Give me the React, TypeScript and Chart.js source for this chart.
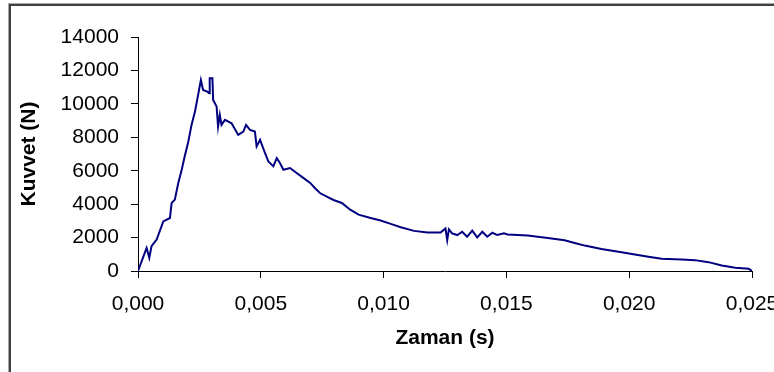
import React, { useEffect, useRef } from "react";
import { Chart, registerables } from "chart.js";

Chart.register(...registerables);

// Time (s)
const timeS: number[] = [
  0, 0.00015, 0.00035, 0.00046, 0.00055, 0.00076, 0.00103, 0.0013, 0.00137, 0.0015,
  0.00164, 0.00178, 0.0019, 0.00205, 0.00218, 0.00232, 0.00246, 0.00256, 0.00265, 0.00282,
  0.0029, 0.00292, 0.00303, 0.00306, 0.0032, 0.00326, 0.00333, 0.0034, 0.00354, 0.00381,
  0.00408, 0.00429, 0.0044, 0.00456, 0.00476, 0.00483, 0.00497, 0.00517, 0.00531, 0.00551,
  0.00565, 0.00578, 0.00592, 0.00619, 0.00646, 0.00673, 0.00701, 0.00721, 0.00742, 0.00796,
  0.0083, 0.00864, 0.00898, 0.00947, 0.00988, 0.01029, 0.0107, 0.01124, 0.01179, 0.01232,
  0.01252, 0.01259, 0.01266, 0.01279, 0.013, 0.0132, 0.0134, 0.01361, 0.01381, 0.01402,
  0.01422, 0.01443, 0.01463, 0.0149, 0.01505, 0.01587, 0.01669, 0.01737, 0.01778, 0.01819,
  0.01887, 0.01969, 0.02023, 0.02078, 0.02132, 0.02214, 0.02268, 0.02323, 0.02377, 0.02432,
  0.02487, 0.025,
];

// Force (N)
const forceN: number[] = [
  0, 590, 1380, 790, 1480, 1880, 2970, 3170, 4070, 4270,
  5260, 6060, 6850, 7750, 8740, 9540, 10630, 11430, 10830, 10730,
  10630, 11530, 11530, 10230, 9840, 8640, 9340, 8740, 9040, 8840,
  8140, 8340, 8740, 8440, 8340, 7450, 7850, 7060, 6550, 6260,
  6750, 6460, 6060, 6160, 5860, 5570, 5270, 4950, 4650, 4250,
  4070, 3670, 3370, 3170, 3020, 2820, 2620, 2400, 2300, 2300,
  2550, 1850, 2490, 2250, 2150, 2350, 2050, 2410, 2010, 2350,
  2050, 2290, 2150, 2250, 2180, 2120, 1980, 1840, 1680, 1520,
  1320, 1120, 990, 850, 730, 690, 650, 530, 330, 190,
  130, 0,
];

const xTitle = "Zaman (s)";
const yTitle = "Kuvvet (N)";
const xMin = 0;
const xMax = 0.025;
const xStep = 0.005;
const yMin = 0;
const yMax = 14000;
const yStep = 2000;

const FONT = "'Liberation Sans', Arial, sans-serif";

const borderPlugin = {
  id: "outerBorder",
  beforeDraw(chart: any) {
    const ctx = chart.ctx;
    ctx.save();
    ctx.fillStyle = "#a8a8a8";
    ctx.fillRect(8, 3, chart.width, 1);
    ctx.fillRect(8, 3, 1, chart.height);
    ctx.fillStyle = "#404040";
    ctx.fillRect(9, 4, chart.width, 2);
    ctx.fillRect(9, 4, 2, chart.height);
    ctx.restore();
  },
};

export default function App() {
  const ref = useRef<HTMLCanvasElement | null>(null);

  useEffect(() => {
    if (!ref.current) return;
    const data = timeS.map((t, i) => ({ x: t, y: forceN[i] }));
    const chart = new Chart(ref.current, {
      type: "line",
      data: {
        datasets: [
          {
            data,
            borderColor: "#000080",
            borderWidth: 2,
            pointRadius: 0,
            tension: 0,
            fill: false,
          },
        ],
      },
      options: {
        animation: false,
        responsive: false,
        maintainAspectRatio: false,
        events: [],
        layout: { padding: { left: 8, top: 37, right: 78, bottom: 0 } },
        plugins: { legend: { display: false }, tooltip: { enabled: false }, title: { display: false } },
        scales: {
          x: {
            type: "linear",
            min: xMin,
            max: xMax,
            afterFit: (s: any) => {
              s.height = 101;
            },
            ticks: {
              stepSize: xStep,
              maxRotation: 0,
              autoSkip: false,
              padding: 14,
              color: "#000",
              font: { family: FONT, size: 21 },
              callback: (v: any) => Number(v).toFixed(3).replace(".", ","),
            },
            grid: { drawOnChartArea: false, drawTicks: true, tickLength: 7, color: "#000" },
            border: { display: true, color: "#000", width: 1 },
            title: {
              display: true,
              text: xTitle,
              color: "#000",
              font: { family: FONT, size: 21, weight: "bold" },
              padding: { top: 0, bottom: 21 },
            },
          },
          y: {
            type: "linear",
            min: yMin,
            max: yMax,
            afterFit: (s: any) => {
              s.width = 130;
            },
            ticks: {
              stepSize: yStep,
              padding: 12,
              color: "#000",
              font: { family: FONT, size: 21 },
              callback: (v: any) => String(v),
            },
            grid: { drawOnChartArea: false, drawTicks: true, tickLength: 7, color: "#000" },
            border: { display: true, color: "#000", width: 1 },
            title: {
              display: true,
              text: yTitle,
              color: "#000",
              font: { family: FONT, size: 21, weight: "bold" },
              padding: { top: 9, bottom: 0 },
            },
          },
        },
      },
      plugins: [borderPlugin],
    });
    return () => chart.destroy();
  }, []);

  return (
    <div
      style={{
        position: "absolute",
        left: 0,
        top: 0,
        width: 774,
        height: 372,
        overflow: "hidden",
        background: "#fff",
      }}
    >
      <canvas ref={ref} width={830} height={372} style={{ display: "block", width: 830, height: 372 }} />
    </div>
  );
}
